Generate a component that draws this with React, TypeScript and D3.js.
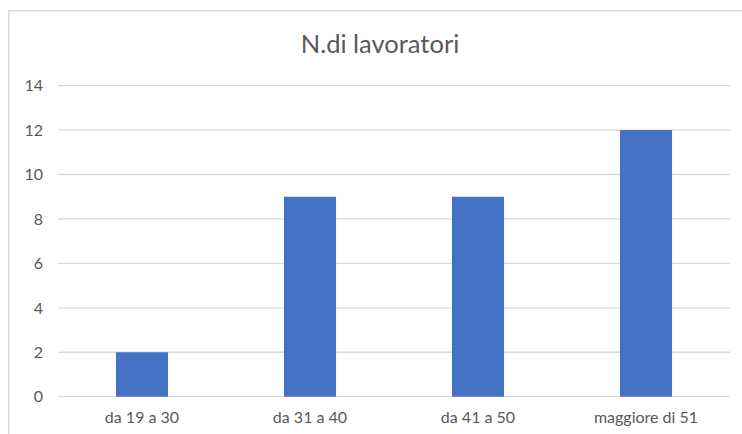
import React from "react";
import * as d3 from "d3";

const categories = ["da 19 a 30", "da 31 a 40", "da 41 a 50", "maggiore di 51"];
const values = [2, 9, 9, 12];
const yTicks = [0, 2, 4, 6, 8, 10, 12, 14];
const title = "N.di lavoratori";

const W = 742;
const H = 434;
const left = 58;
const right = 730;
const top = 85.6;
const bottom = 396.7;
const font = "Lato, 'Open Sans', sans-serif";

export default function App() {
  const x = d3.scaleBand<string>().domain(categories).range([left, right]).paddingInner(0.69).paddingOuter(0.345);
  const y = d3.scaleLinear().domain([0, 14]).range([bottom, top]);
  return (
    <svg width={W} height={H} style={{ position: "absolute", left: 0, top: 0 }} fontFamily={font}>
      <rect x={0} y={0} width={W} height={H} fill="#fff" />
      <rect x={8.75} y={10.75} width={W} height={H} fill="none" stroke="#d9d9d9" strokeWidth={1.5} />
      <text x={380} y={53} textAnchor="middle" fontSize={25.5} fill="#595959">{title}</text>
      {yTicks.map((t) => (
        <g key={t}>
          <line x1={left} x2={right} y1={y(t)} y2={y(t)} stroke="#d9d9d9" strokeWidth={1.3} />
          <text x={43} y={y(t)} dy="0.36em" textAnchor="end" fontSize={16} fill="#595959">{t}</text>
        </g>
      ))}
      {categories.map((c, i) => (
        <rect key={c} x={x(c)} y={y(values[i])} width={x.bandwidth()} height={y(0) - y(values[i])} fill="#4472C4" />
      ))}
      {categories.map((c) => (
        <text key={c} x={(x(c) ?? 0) + x.bandwidth() / 2} y={423} textAnchor="middle" fontSize={16} fill="#595959">{c}</text>
      ))}
    </svg>
  );
}
